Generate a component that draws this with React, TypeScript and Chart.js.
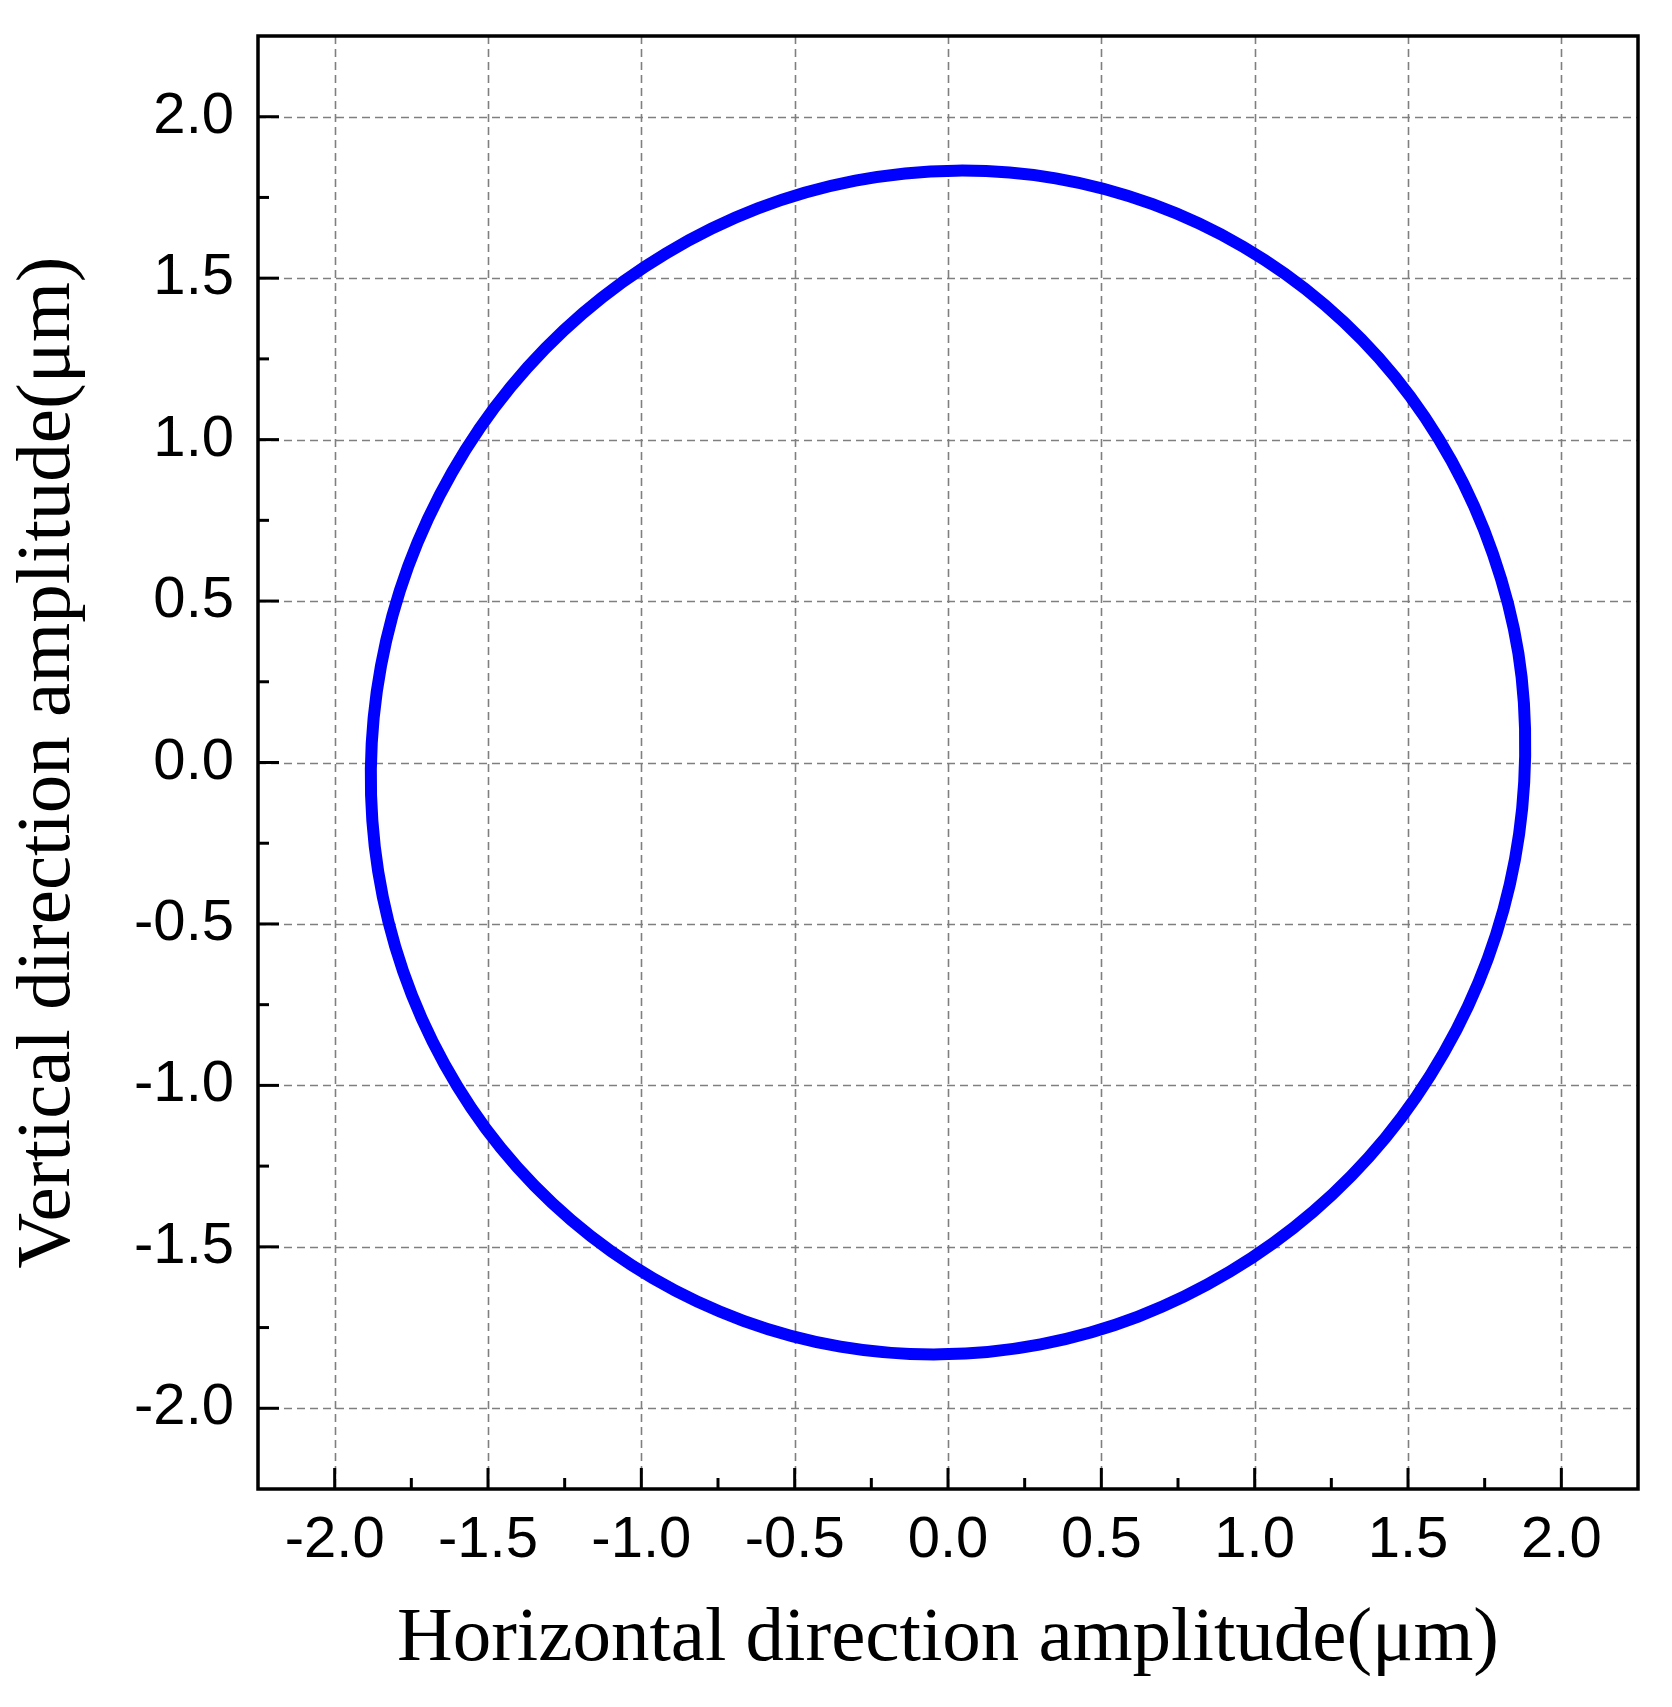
import React, { useEffect, useRef } from 'react';
import { Chart, registerables } from 'chart.js';

Chart.register(...registerables);

// Orbit trace (μm), every ~10° counter-clockwise,
// starting at the right-most point; the first three points are repeated at the end
// so the closed loop is joined smoothly.
const orbitX = [
  1.882, 1.860, 1.777, 1.642, 1.458, 1.229, 0.963, 0.667, 0.351, 0.025,
  -0.302, -0.620, -0.919, -1.191, -1.426, -1.617, -1.760, -1.849, -1.882, -1.858,
  -1.777, -1.642, -1.458, -1.229, -0.963, -0.667, -0.351, -0.025, 0.302, 0.620,
  0.919, 1.191, 1.426, 1.617, 1.760, 1.849, 1.882, 1.860, 1.777,
];
const orbitY = [
  0.020, 0.338, 0.646, 0.934, 1.194, 1.417, 1.597, 1.729, 1.809, 1.833,
  1.802, 1.716, 1.577, 1.391, 1.163, 0.899, 0.608, 0.299, -0.020, -0.338,
  -0.646, -0.934, -1.194, -1.417, -1.597, -1.729, -1.809, -1.833, -1.802, -1.716,
  -1.577, -1.391, -1.163, -0.899, -0.608, -0.299, 0.020, 0.338, 0.646,
];

const axisMin = -2.25;
const axisMax = 2.25;
const tickStep = 0.25;
const majorTickValues = [-2.0, -1.5, -1.0, -0.5, 0.0, 0.5, 1.0, 1.5, 2.0];

const xTitle = 'Horizontal direction amplitude(μm)';
const yTitle = 'Vertical direction amplitude(μm)';

const isMajor = (v: number) => majorTickValues.some((m) => Math.abs(m - v) < 1e-6);
const isMinor = (v: number) => !isMajor(v) && Math.abs(v) < 2.2;

const originFramePlugin = {
  id: 'originFrame',
  beforeDatasetsDraw(chart: any) {
    const { ctx, chartArea: a, scales } = chart;
    ctx.save();
    ctx.strokeStyle = '#7f7f7f';
    ctx.lineWidth = 1.6;
    ctx.setLineDash([8, 5]);
    for (const t of scales.x.ticks) {
      if (!isMajor(t.value)) continue;
      const px = Math.round(scales.x.getPixelForValue(t.value)) + 0.5;
      ctx.beginPath();
      ctx.moveTo(px, a.top);
      ctx.lineTo(px, a.bottom);
      ctx.stroke();
    }
    for (const t of scales.y.ticks) {
      if (!isMajor(t.value)) continue;
      const py = Math.round(scales.y.getPixelForValue(t.value)) + 0.5;
      ctx.beginPath();
      ctx.moveTo(a.left, py);
      ctx.lineTo(a.right, py);
      ctx.stroke();
    }
    ctx.restore();
  },
  afterDatasetsDraw(chart: any) {
    const { ctx, chartArea: a, scales } = chart;
    ctx.save();
    ctx.strokeStyle = '#000';
    ctx.setLineDash([]);
    ctx.lineWidth = 3;
    for (const t of scales.x.ticks) {
      const major = isMajor(t.value);
      if (!major && !isMinor(t.value)) continue;
      const px = scales.x.getPixelForValue(t.value);
      const len = major ? 21 : 11;
      ctx.beginPath();
      ctx.moveTo(px, a.bottom);
      ctx.lineTo(px, a.bottom - len);
      ctx.stroke();
    }
    for (const t of scales.y.ticks) {
      const major = isMajor(t.value);
      if (!major && !isMinor(t.value)) continue;
      const py = scales.y.getPixelForValue(t.value);
      const len = major ? 21 : 11;
      ctx.beginPath();
      ctx.moveTo(a.left, py);
      ctx.lineTo(a.left + len, py);
      ctx.stroke();
    }
    ctx.lineWidth = 3.5;
    ctx.strokeRect(a.left, a.top, a.right - a.left, a.bottom - a.top);
    ctx.restore();
  },
};

const tickLabel = (v: any) => {
  const n = Number(v);
  return isMajor(n) ? n.toFixed(1) : '';
};

export default function App() {
  const canvasRef = useRef<HTMLCanvasElement | null>(null);

  useEffect(() => {
    if (!canvasRef.current) return;
    const points = orbitX.map((x, i) => ({ x, y: orbitY[i] }));
    const lastIndex = points.length - 1;
    const tickFont = { family: '"Liberation Sans", Arial, sans-serif', size: 58 };
    const titleFont = { family: '"Liberation Serif", "Times New Roman", serif', size: 77 };
    const chart = new Chart(canvasRef.current, {
      type: 'scatter',
      data: {
        datasets: [
          {
            data: points,
            showLine: true,
            borderColor: '#0000ff',
            backgroundColor: '#0000ff',
            borderWidth: 12,
            borderJoinStyle: 'round',
            borderCapStyle: 'round',
            pointRadius: 0,
            pointHoverRadius: 0,
            fill: false,
            tension: 0.34,
            segment: {
              // the open ends of the spline are hidden; the overlapping
              // repeated points draw the join with proper curvature
              borderColor: (ctx: any) =>
                ctx.p0DataIndex === 0 || ctx.p1DataIndex === lastIndex ? 'rgba(0,0,0,0)' : undefined,
            },
          } as any,
        ],
      },
      options: {
        animation: false,
        responsive: false,
        maintainAspectRatio: false,
        layout: { padding: { top: 36, right: 34, left: 0, bottom: 0 } },
        plugins: { legend: { display: false }, tooltip: { enabled: false } },
        scales: {
          x: {
            type: 'linear',
            min: axisMin,
            max: axisMax,
            grid: { display: false, drawTicks: false },
            border: { display: false },
            ticks: {
              stepSize: tickStep,
              autoSkip: false,
              maxRotation: 0,
              includeBounds: false,
              padding: 17,
              color: '#000',
              font: tickFont,
              callback: tickLabel,
            },
            title: {
              display: true,
              text: xTitle,
              color: '#000',
              font: titleFont,
              padding: { top: 0, bottom: 21 },
            },
            afterFit: (s: any) => {
              s.height = 218;
              s.paddingLeft = 0;
              s.paddingRight = 0;
            },
          },
          y: {
            type: 'linear',
            min: axisMin,
            max: axisMax,
            grid: { display: false, drawTicks: false },
            border: { display: false },
            ticks: {
              stepSize: tickStep,
              autoSkip: false,
              includeBounds: false,
              padding: 24,
              color: '#000',
              font: tickFont,
              callback: tickLabel,
            },
            title: {
              display: true,
              text: yTitle,
              color: '#000',
              font: titleFont,
              padding: { top: 3, bottom: 0 },
            },
            afterFit: (s: any) => {
              s.width = 258;
              s.paddingTop = 0;
              s.paddingBottom = 0;
            },
          },
        },
      } as any,
      plugins: [originFramePlugin],
    });
    return () => chart.destroy();
  }, []);

  return (
    <div style={{ position: 'absolute', left: 0, top: 0, width: 1672, height: 1707, background: '#fff' }}>
      <canvas ref={canvasRef} width={1672} height={1707} style={{ display: 'block' }} />
    </div>
  );
}
